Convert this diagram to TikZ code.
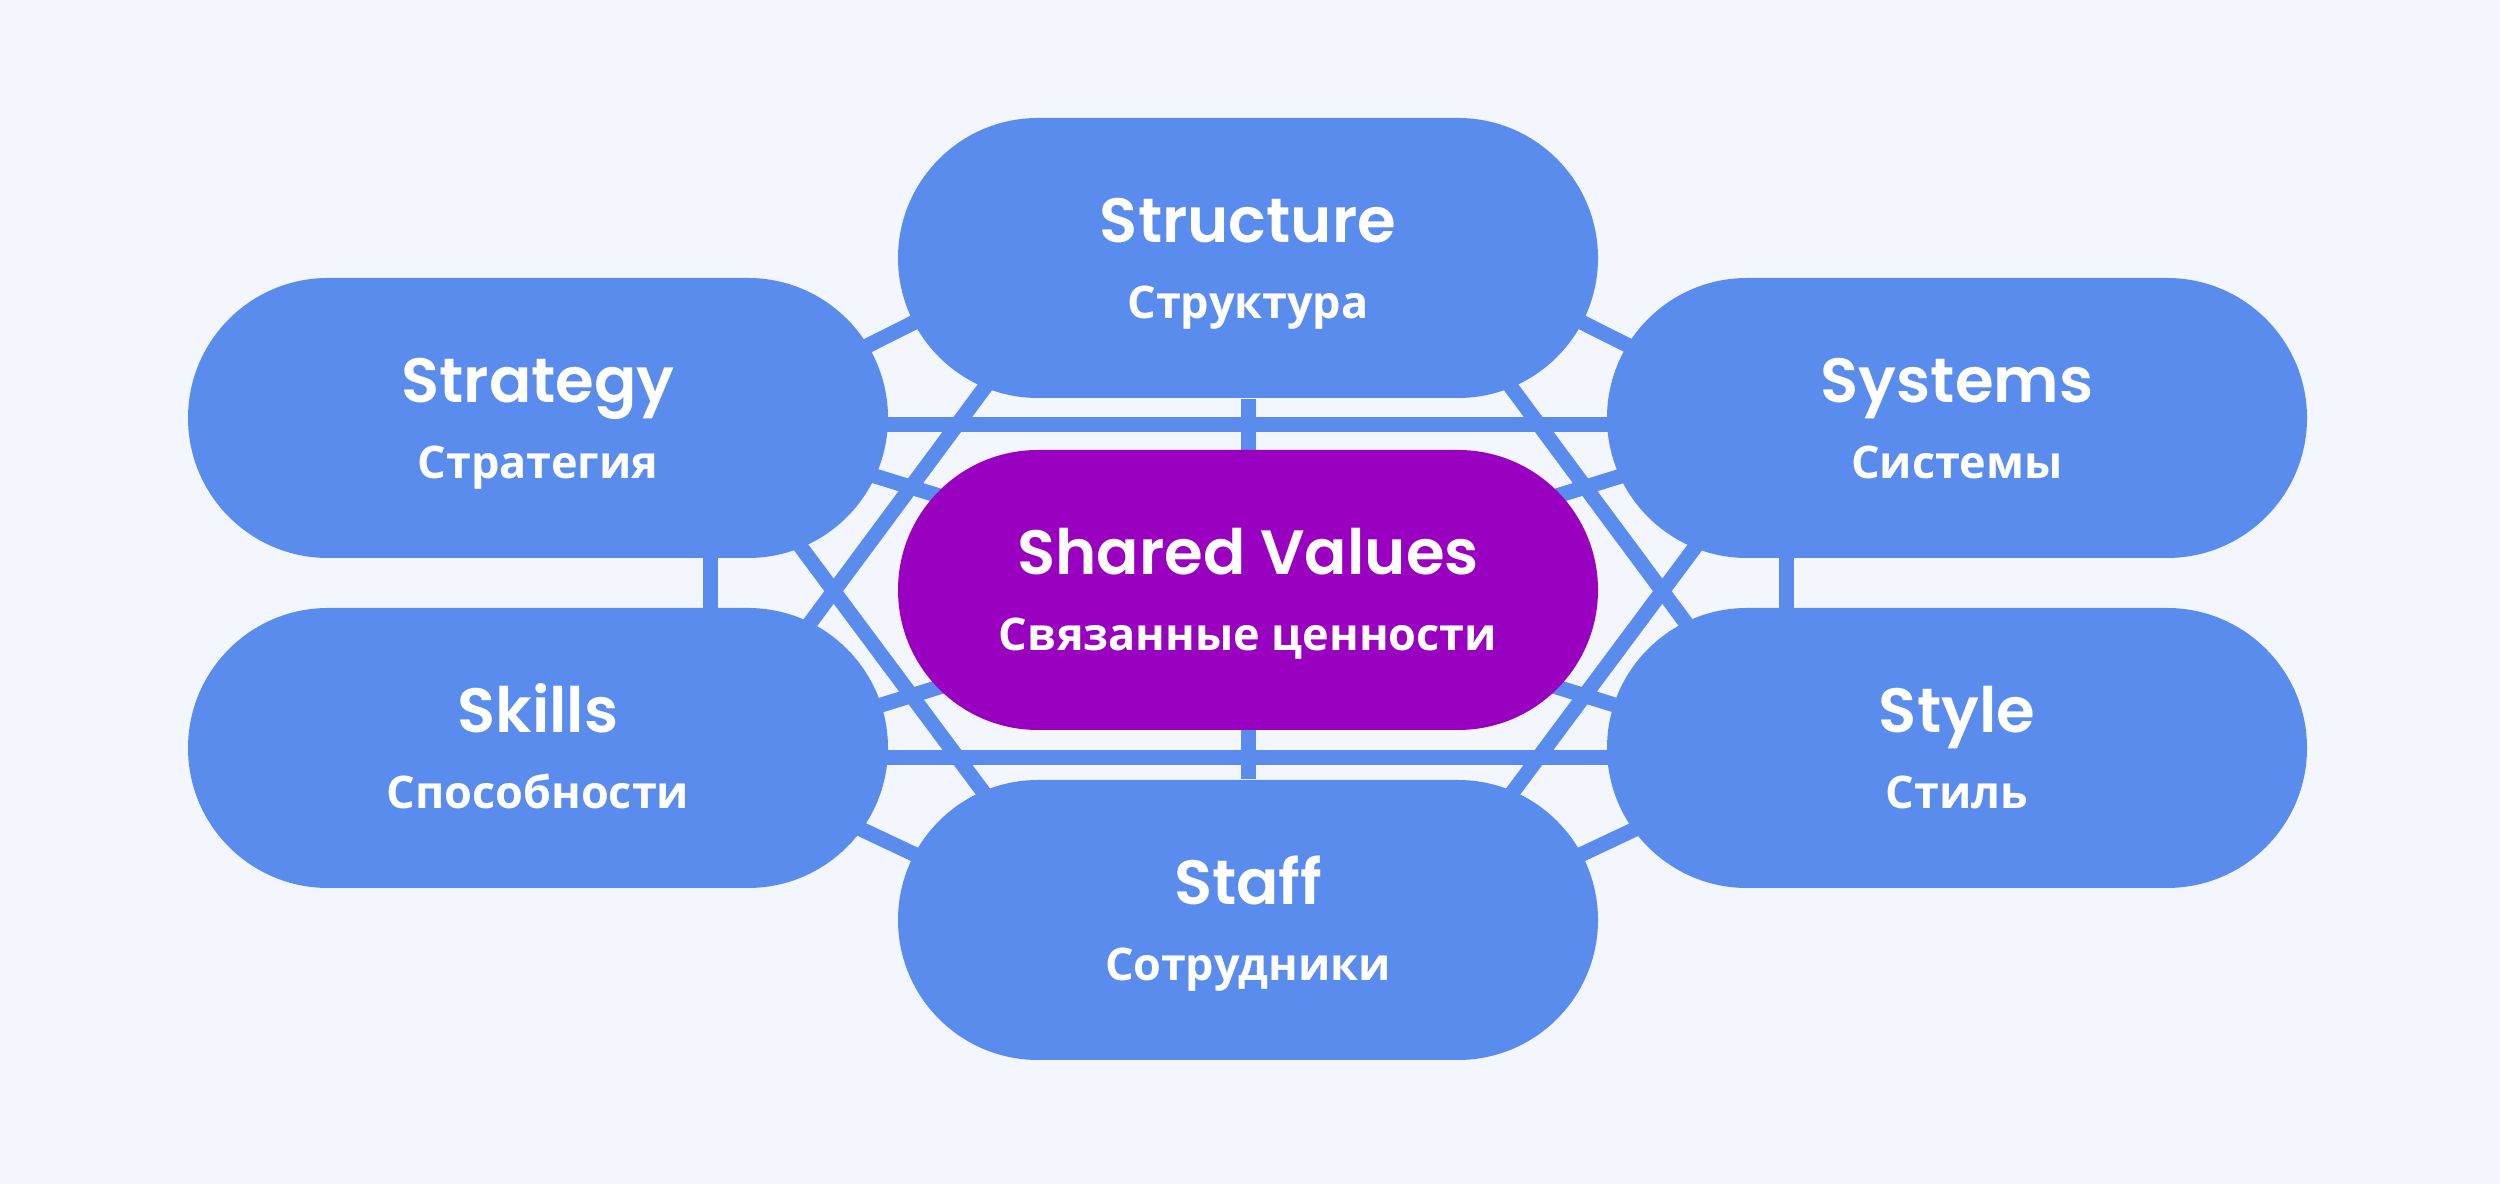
\documentclass[tikz,border=0pt]{standalone}
\usepackage{fontspec}
\usepackage{tikz}
\usepackage{xcolor}

\newfontfamily\latfont{Poppins SemiBold}
\newfontfamily\cyrfont{Open Sans}

\definecolor{paper}{HTML}{F3F7FD}
\definecolor{sevenblue}{HTML}{5A8CEE}
\definecolor{valuepurple}{HTML}{9900BF}

\newcommand{\ttl}[1]{{\latfont\fontsize{17.8}{22}\selectfont\rule{0pt}{5.7mm}#1}}
\newcommand{\sbt}[1]{{\cyrfont\bfseries\fontsize{12.8}{15}\selectfont\rule[-1.2mm]{0pt}{1.2mm}#1}}

\pgfdeclarelayer{canvas}
\pgfdeclarelayer{wires}
\pgfsetlayers{canvas,wires,main}

\begin{document}
\begin{tikzpicture} [main/.style = {fill=sevenblue, text=white, rounded corners=14mm, minimum width=70mm, minimum height=28mm, align=center, font=\fontsize{12}{21.86}\selectfont},
    core/.style = {main, fill=valuepurple},
    link/.style = {draw=sevenblue, line width=1.5mm}]
    \begin{pgfonlayer}{canvas}
      \fill[paper] (0,0) rectangle (25,11.84);
    \end{pgfonlayer}

    \node[core] (shared) at (12.48,5.94) {\ttl{Shared Values}\\\sbt{Связанные ценности}};
    \node[main] (structure) at (12.48,9.26) {\ttl{Structure}\\\sbt{Структура}};
    \node[main] (strategy) at (5.38,7.66) {\ttl{Strategy}\\\sbt{Стратегия}};
    \node[main] (systems) at (19.57,7.66) {\ttl{Systems}\\\sbt{Системы}};
    \node[main] (skills) at (5.38,4.36) {\ttl{Skills}\\\sbt{Способности}};
    \node[main] (style) at (19.57,4.36) {\ttl{Style}\\\sbt{Стиль}};
    \node[main] (staff) at (12.48,2.64) {\ttl{Staff}\\\sbt{Сотрудники}};

    \coordinate (strat-p) at (7.10,7.59);
    \coordinate (skill-p) at (7.10,4.26);
    \coordinate (syst-p) at (17.86,7.59);
    \coordinate (style-p) at (17.86,4.26);
    \coordinate (struct-l) at (10.40,9.25);
    \coordinate (struct-r) at (14.56,9.25);
    \coordinate (struct-dl) at (10.80,9.25);
    \coordinate (struct-dr) at (14.16,9.25);
    \coordinate (staff-l) at (10.58,2.62);
    \coordinate (staff-r) at (14.38,2.62);
    \coordinate (staff-dl) at (10.80,2.62);
    \coordinate (staff-dr) at (14.16,2.62);

    \begin{pgfonlayer}{wires}
      \draw[link] (strat-p) -- (syst-p);
      \draw[link] (skill-p) -- (style-p);
      \draw[link] (strat-p) -- (skill-p);
      \draw[link] (syst-p) -- (style-p);
      \draw[link] (structure) -- (staff);
      \draw[link] (strat-p) -- (struct-l);
      \draw[link] (syst-p) -- (struct-r);
      \draw[link] (skill-p) -- (staff-l);
      \draw[link] (style-p) -- (staff-r);
      \draw[link] (strat-p) -- (style-p);
      \draw[link] (skill-p) -- (syst-p);
      \draw[link] (strat-p) -- (staff-dl);
      \draw[link] (skill-p) -- (struct-dl);
      \draw[link] (syst-p) -- (staff-dr);
      \draw[link] (style-p) -- (struct-dr);
    \end{pgfonlayer}

  \end{tikzpicture}
\end{document}
